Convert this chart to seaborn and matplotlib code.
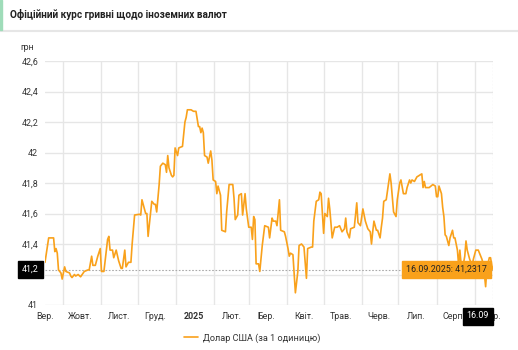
import matplotlib
matplotlib.use("Agg")
import matplotlib.pyplot as plt
from matplotlib.patches import Rectangle
from matplotlib.lines import Line2D
import seaborn as sns
import pandas as pd

dates = [
    "2024-09-16", "2024-09-19", "2024-09-23", "2024-09-24", "2024-09-25", "2024-09-26",
    "2024-09-27", "2024-09-29", "2024-09-30",
    "2024-10-02", "2024-10-03", "2024-10-06", "2024-10-07", "2024-10-08", "2024-10-10",
    "2024-10-11", "2024-10-13", "2024-10-15", "2024-10-18", "2024-10-21", "2024-10-22",
    "2024-10-24", "2024-10-25", "2024-10-27", "2024-10-29", "2024-10-31",
    "2024-11-01", "2024-11-03", "2024-11-06", "2024-11-07", "2024-11-08", "2024-11-10",
    "2024-11-11", "2024-11-13", "2024-11-15", "2024-11-17", "2024-11-18", "2024-11-20",
    "2024-11-21", "2024-11-23", "2024-11-25", "2024-11-26", "2024-11-28",
    "2024-12-02", "2024-12-03", "2024-12-04", "2024-12-07", "2024-12-08", "2024-12-09",
    "2024-12-12", "2024-12-14", "2024-12-15", "2024-12-16", "2024-12-18", "2024-12-19",
    "2024-12-21", "2024-12-23", "2024-12-24", "2024-12-25", "2024-12-26", "2024-12-28",
    "2024-12-29", "2024-12-30", "2024-12-31",
    "2025-01-02", "2025-01-03", "2025-01-06", "2025-01-08", "2025-01-09", "2025-01-10",
    "2025-01-13", "2025-01-15", "2025-01-17", "2025-01-19", "2025-01-20", "2025-01-21",
    "2025-01-22", "2025-01-23", "2025-01-24", "2025-01-26", "2025-01-27", "2025-01-29",
    "2025-01-30", "2025-01-31",
    "2025-02-02", "2025-02-03", "2025-02-04", "2025-02-06", "2025-02-07", "2025-02-10",
    "2025-02-11", "2025-02-13", "2025-02-16", "2025-02-17", "2025-02-18", "2025-02-20",
    "2025-02-21", "2025-02-23", "2025-02-24", "2025-02-26", "2025-02-27",
    "2025-03-01", "2025-03-03", "2025-03-04", "2025-03-05", "2025-03-06", "2025-03-07",
    "2025-03-09", "2025-03-10", "2025-03-12", "2025-03-14", "2025-03-17", "2025-03-18",
    "2025-03-20", "2025-03-21", "2025-03-23", "2025-03-24", "2025-03-26", "2025-03-27",
    "2025-03-30", "2025-03-31",
    "2025-04-02", "2025-04-03", "2025-04-04", "2025-04-06", "2025-04-07", "2025-04-08",
    "2025-04-10", "2025-04-11", "2025-04-13", "2025-04-15", "2025-04-17", "2025-04-18",
    "2025-04-21", "2025-04-22", "2025-04-23", "2025-04-25", "2025-04-27", "2025-04-28",
    "2025-04-29",
    "2025-05-01", "2025-05-02", "2025-05-04", "2025-05-05", "2025-05-06", "2025-05-08",
    "2025-05-10", "2025-05-12", "2025-05-14", "2025-05-16", "2025-05-18", "2025-05-19",
    "2025-05-20", "2025-05-22", "2025-05-23", "2025-05-26", "2025-05-28", "2025-05-29",
    "2025-05-31",
    "2025-06-02", "2025-06-04", "2025-06-06", "2025-06-08", "2025-06-09", "2025-06-10",
    "2025-06-11", "2025-06-13", "2025-06-14", "2025-06-16", "2025-06-17", "2025-06-18",
    "2025-06-19", "2025-06-21", "2025-06-23", "2025-06-24", "2025-06-25", "2025-06-27",
    "2025-06-29", "2025-06-30",
    "2025-07-02", "2025-07-03", "2025-07-05", "2025-07-07", "2025-07-08", "2025-07-10",
    "2025-07-11", "2025-07-12", "2025-07-14", "2025-07-16", "2025-07-18", "2025-07-20",
    "2025-07-21", "2025-07-22", "2025-07-23", "2025-07-26", "2025-07-29", "2025-07-31",
    "2025-08-01", "2025-08-02", "2025-08-03", "2025-08-05", "2025-08-06", "2025-08-07",
    "2025-08-08", "2025-08-09", "2025-08-11", "2025-08-12", "2025-08-14", "2025-08-15",
    "2025-08-16", "2025-08-18", "2025-08-19", "2025-08-20", "2025-08-21", "2025-08-22",
    "2025-08-24", "2025-08-25", "2025-08-26", "2025-08-28", "2025-08-30", "2025-08-31",
    "2025-09-02", "2025-09-04", "2025-09-05", "2025-09-07", "2025-09-08", "2025-09-09",
    "2025-09-10", "2025-09-11", "2025-09-13", "2025-09-14", "2025-09-15", "2025-09-16",
]

usd_rate = [
    41.28, 41.44, 41.44, 41.35, 41.37, 41.34,
    41.23, 41.21, 41.17,
    41.25, 41.22, 41.21, 41.19, 41.18, 41.20,
    41.19, 41.20, 41.185, 41.22, 41.23, 41.23,
    41.32, 41.26, 41.26, 41.32, 41.37,
    41.22, 41.22, 41.43, 41.45, 41.36, 41.36,
    41.31, 41.36, 41.29, 41.24, 41.24, 41.36,
    41.25, 41.28, 41.28, 41.40, 41.59,
    41.595, 41.59, 41.69, 41.60, 41.60, 41.45,
    41.68, 41.66, 41.66, 41.61, 41.79, 41.91,
    41.93, 41.92, 41.87, 41.98, 41.90, 41.85,
    41.84, 41.85, 42.03,
    41.98, 42.03, 42.04, 42.20, 42.23, 42.28,
    42.28, 42.27, 42.27, 42.17, 42.17, 42.13,
    42.16, 42.13, 41.98, 41.97, 41.93, 42.01,
    41.95, 41.82,
    41.81, 41.73, 41.78, 41.72, 41.49, 41.48,
    41.61, 41.79, 41.79, 41.70, 41.56, 41.59,
    41.72, 41.73, 41.59, 41.73, 41.63,
    41.51, 41.51, 41.43, 41.58, 41.56, 41.27,
    41.27, 41.22, 41.39, 41.52, 41.51, 41.44,
    41.57, 41.55, 41.55, 41.52, 41.69, 41.49,
    41.48, 41.45,
    41.37, 41.32, 41.34, 41.33, 41.21, 41.08,
    41.22, 41.39, 41.40, 41.38, 41.175, 41.37,
    41.38, 41.38, 41.55, 41.68, 41.69, 41.74,
    41.73,
    41.47, 41.60, 41.58, 41.70, 41.63, 41.44,
    41.51, 41.51, 41.52, 41.48, 41.50, 41.57,
    41.48, 41.44, 41.50, 41.51, 41.67, 41.54,
    41.52,
    41.63, 41.55, 41.50, 41.48, 41.40, 41.48,
    41.55, 41.49, 41.49, 41.44, 41.51, 41.57,
    41.68, 41.69, 41.80, 41.86, 41.80, 41.61,
    41.58, 41.69,
    41.80, 41.82, 41.73, 41.73, 41.77, 41.82,
    41.80, 41.82, 41.81, 41.84, 41.85, 41.86,
    41.77, 41.81, 41.77, 41.77, 41.79, 41.78,
    41.71, 41.71, 41.78, 41.73, 41.64, 41.58,
    41.46, 41.45, 41.39, 41.44, 41.49, 41.44,
    41.44, 41.36, 41.26, 41.36, 41.27, 41.23,
    41.32, 41.42, 41.36, 41.30, 41.26, 41.30,
    41.36, 41.36, 41.34, 41.30, 41.27, 41.20,
    41.12, 41.24, 41.31, 41.31, 41.26, 41.2317,
]

month_labels = ["Вер.", "Жовт.", "Лист.", "Груд.", "2025", "Лют.", "Бер.",
                "Квіт.", "Трав.", "Черв.", "Лип.", "Серп.", "Вер."]
y_ticks = [41.0, 41.2, 41.4, 41.6, 41.8, 42.0, 42.2, 42.4, 42.6]
title = "Офіційний курс гривні щодо іноземних валют"
unit_label = "грн"
series_name = "Долар США (за 1 одиницю)"

LINE = "#f9a11b"
TXT = "#333333"

sns.set_theme(style="whitegrid")
plt.rcParams["font.family"] = ["Roboto", "DejaVu Sans"]

df = pd.DataFrame({"date": pd.to_datetime(dates), "rate": usd_rate})
start, end = df["date"].iloc[0], df["date"].iloc[-1]
last_val = df["rate"].iloc[-1]

fig = plt.figure(figsize=(5.18, 3.5), dpi=100)
fig.patch.set_facecolor("white")
ax = fig.add_axes([45 / 518, 45 / 350, 448 / 518, 244 / 350])

sns.lineplot(data=df, x="date", y="rate", ax=ax, color=LINE, linewidth=1.2,
             legend=False)

ax.set_xlim(start, end)
ax.set_ylim(y_ticks[0], y_ticks[-1])
ax.set_yticks(y_ticks)
cross_label = f"{last_val:.1f}".replace(".", ",")
ylabels = []
for t in y_ticks:
    lab = (f"{t:.1f}".rstrip("0").rstrip(".")).replace(".", ",")
    # the crosshair label box covers this tick label in the reference
    ylabels.append("" if lab == cross_label else lab)
ax.set_yticklabels(ylabels)

# month gridlines at month starts, labels mid-month
month_starts = pd.date_range("2024-10-01", "2025-09-01", freq="MS")
mids = [pd.Timestamp(d) + pd.Timedelta(days=14) for d in pd.date_range("2024-09-01", "2025-09-01", freq="MS")]
mids[0] = max(mids[0], start)
ax.set_xticks(mids)
ax.set_xticklabels(month_labels)
ax.set_xticks(month_starts, minor=True)
ax.grid(False)
ax.grid(True, which="minor", axis="x", color="#e6e6e6", linewidth=1)
ax.grid(True, which="major", axis="y", color="#e6e6e6", linewidth=1)
for s in ax.spines.values():
    s.set_visible(False)
ax.tick_params(axis="both", which="both", length=0, labelsize=6.4, colors=TXT)
ax.tick_params(axis="x", pad=5)
ax.tick_params(axis="y", pad=5)
for lab in ax.get_xticklabels():
    if lab.get_text() == "2025":
        lab.set_fontweight("bold")
ax.set_xlabel("")
ax.set_ylabel("")

# crosshair
ax.axhline(last_val, color="#aaaaaa", linestyle=(0, (1.5, 1.5)), linewidth=0.8, zorder=1)
ax.axvline(end, color="#aaaaaa", linestyle=(0, (1.5, 1.5)), linewidth=0.8, zorder=1)

# value labels
ax.annotate(cross_label, xy=(0, last_val),
            xycoords=("axes fraction", "data"), xytext=(-6, 0),
            textcoords="offset pixels", ha="right", va="center", fontsize=6.4,
            color="white", annotation_clip=False, zorder=20,
            bbox=dict(boxstyle="square,pad=0.45", fc="black", ec="black"))
ax.annotate(f"{end:%d.%m.%Y}: " + f"{last_val:.4f}".replace(".", ","),
            xy=(end, last_val), xytext=(-6, 0), textcoords="offset pixels",
            ha="right", va="center", fontsize=6.4, color="#222222",
            annotation_clip=False, zorder=20,
            bbox=dict(boxstyle="square,pad=0.45", fc=LINE, ec=LINE))
ax.annotate(f"{end:%d.%m}", xy=(end, 0), xycoords=("data", "axes fraction"),
            xytext=(-4, -11), textcoords="offset pixels", ha="right", va="center",
            fontsize=6.4, color="white", annotation_clip=False, zorder=20,
            bbox=dict(boxstyle="square,pad=0.45", fc="black", ec="black"))

# header
fig.text(10 / 518, 1 - 14 / 350, title, fontsize=7.2, fontweight="bold",
         color="#222222", ha="left", va="center")
fig.patches.append(Rectangle((0, 1 - 30 / 350), 2 / 518, 30 / 350,
                             transform=fig.transFigure, color="#9fdcb9", zorder=5))
fig.lines.append(Line2D([0, 1], [1 - 31 / 350, 1 - 31 / 350], transform=fig.transFigure,
                        color="#e6e6e6", linewidth=1.5))
fig.text(27 / 518, 1 - 47 / 350, unit_label, fontsize=6.4, color=TXT,
         ha="center", va="center")

handle = Line2D([], [], color=LINE, linewidth=1.2)
fig.legend([handle], [series_name], loc="center", bbox_to_anchor=(252 / 518, 12 / 350),
           frameon=False, fontsize=6.6, handlelength=1.6, handletextpad=0.5,
           labelcolor=TXT)

fig.savefig("out.png", dpi=100)
